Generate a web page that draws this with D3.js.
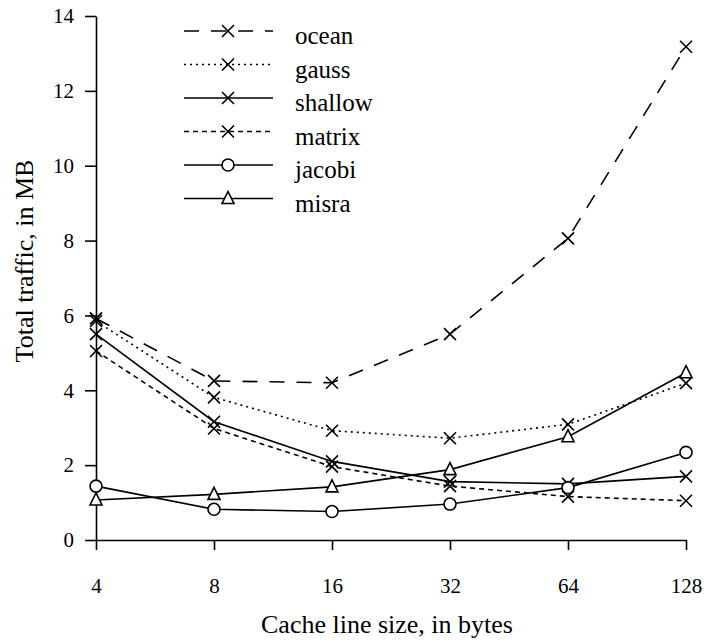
<!DOCTYPE html>
<html>
<head>
<meta charset="utf-8">
<script src="https://cdn.jsdelivr.net/npm/d3@7"></script>
<style>
  html, body { margin: 0; padding: 0; background: #fff; }
  svg { display: block; }
</style>
</head>
<body>
<svg id="chart" width="706" height="640"></svg>
<script>
// Cache line sizes (bytes) on the x axis
const lineSizes = [4, 8, 16, 32, 64, 128];
const yTicks = [0, 2, 4, 6, 8, 10, 12, 14];

// Total traffic (MB) per benchmark
const ocean   = [5.92, 4.25, 4.20, 5.50, 8.06, 13.18];
const gauss   = [5.85, 3.81, 2.92, 2.72, 3.09, 4.19];
const shallow = [5.50, 3.16, 2.10, 1.56, 1.50, 1.70];
const matrix  = [5.05, 2.98, 1.96, 1.44, 1.16, 1.05];
const jacobi  = [1.44, 0.82, 0.76, 0.96, 1.40, 2.34];
const misra   = [1.07, 1.22, 1.42, 1.88, 2.76, 4.47];

const seriesNames = ["ocean", "gauss", "shallow", "matrix", "jacobi", "misra"];
const seriesValues = [ocean, gauss, shallow, matrix, jacobi, misra];
const seriesDash = ["15,12", "2,4", null, "5,4", null, null];
const seriesMarker = ["x", "x", "x", "x", "circle", "triangle"];

const FONT = "Liberation Serif, Times New Roman, serif";

const svg = d3.select("#chart");

const x = d3.scaleLog().base(2).domain([4, 128]).range([96, 686]);
const y = d3.scaleLinear().domain([0, 14]).range([540, 16]);

// Axes
const yAxis = d3.axisLeft(y).tickValues(yTicks).tickSize(11).tickSizeOuter(0).tickPadding(11);
const xAxis = d3.axisBottom(x).tickValues(lineSizes).tickFormat(d3.format("d"))
  .tickSize(10).tickSizeOuter(0).tickPadding(28);

const gy = svg.append("g").attr("transform", "translate(96,0)").call(yAxis);
const gx = svg.append("g").attr("transform", "translate(0,540)").call(xAxis);
[gx, gy].forEach(g => {
  g.attr("font-family", FONT).attr("font-size", 21);
  g.selectAll("path, line").attr("stroke", "#000").attr("stroke-width", 1.6);
  g.selectAll("text").attr("fill", "#000");
});

// Axis titles
svg.append("text")
  .attr("x", 387).attr("y", 633)
  .attr("text-anchor", "middle")
  .attr("font-family", FONT).attr("font-size", 26)
  .text("Cache line size, in bytes");

svg.append("text")
  .attr("transform", "translate(33,261) rotate(-90)")
  .attr("text-anchor", "middle")
  .attr("font-family", FONT).attr("font-size", 26)
  .text("Total traffic, in MB");

// Marker drawing
function drawMarker(g, type, cx, cy) {
  if (type === "x") {
    const s = 6;
    g.append("path")
      .attr("d", `M${cx - s},${cy - s}L${cx + s},${cy + s}M${cx - s},${cy + s}L${cx + s},${cy - s}`)
      .attr("stroke", "#000").attr("stroke-width", 1.6).attr("fill", "none");
  } else if (type === "circle") {
    g.append("circle").attr("cx", cx).attr("cy", cy).attr("r", 6)
      .attr("stroke", "#000").attr("stroke-width", 1.6).attr("fill", "#fff");
  } else if (type === "triangle") {
    const s = 6;
    g.append("path")
      .attr("d", `M${cx},${cy - s - 1}L${cx + s},${cy + s - 1}L${cx - s},${cy + s - 1}Z`)
      .attr("stroke", "#000").attr("stroke-width", 1.6).attr("fill", "#fff");
  }
}

const line = d3.line().x((d, i) => x(lineSizes[i])).y(d => y(d));

const plot = svg.append("g");
seriesValues.forEach((vals, k) => {
  plot.append("path")
    .datum(vals)
    .attr("d", line)
    .attr("fill", "none")
    .attr("stroke", "#000")
    .attr("stroke-width", 1.6)
    .attr("stroke-dasharray", seriesDash[k]);
});
seriesValues.forEach((vals, k) => {
  const g = plot.append("g");
  vals.forEach((v, i) => drawMarker(g, seriesMarker[k], x(lineSizes[i]), y(v)));
});

// Legend
const legend = svg.append("g");
seriesNames.forEach((name, k) => {
  const ly = 31 + k * 33.5;
  legend.append("line")
    .attr("x1", 184).attr("x2", 273).attr("y1", ly).attr("y2", ly)
    .attr("stroke", "#000").attr("stroke-width", 1.6)
    .attr("stroke-dasharray", seriesDash[k]);
  drawMarker(legend, seriesMarker[k], 228, ly);
  legend.append("text")
    .attr("x", 295).attr("y", ly + 13)
    .attr("font-family", FONT).attr("font-size", 25)
    .text(name);
});
</script>
</body>
</html>
